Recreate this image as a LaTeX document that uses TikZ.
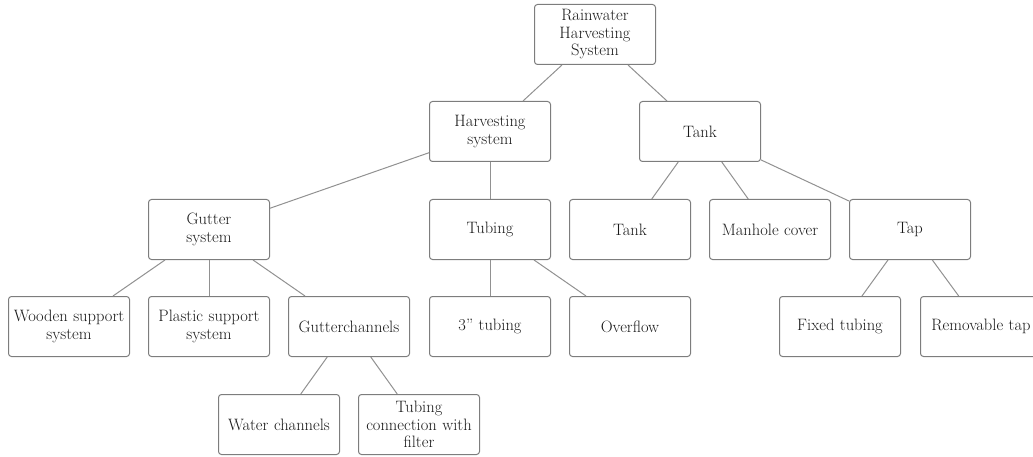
\documentclass[tikz,border=0pt]{standalone}
\usepackage{xcolor}
\usepackage{tikz}
\usetikzlibrary{positioning,calc}
\definecolor{edgegray}{RGB}{145,145,145}
\definecolor{framegray}{RGB}{125,125,125}
\definecolor{inkgray}{RGB}{25,25,25}

\begin{document}
\begin{tikzpicture}[x=1pt, y=-1pt, font=\fontsize{16.5}{17.5}\selectfont, text=inkgray,
  box/.style={draw=framegray, line width=1pt, rounded corners=3pt, align=center, minimum width=121pt, minimum height=60pt, inner sep=2pt, text width=116pt},
  link/.style={draw=edgegray, line width=1pt}]
\useasboundingbox (0,0) rectangle (1033,457);
% bottom row
\node[box] (wood) at (69,326.5) {Wooden support\\system};
\node[box, right=18pt of wood] (plast) {Plastic support\\system};
\node[box, right=18pt of plast] (gchan) {Gutterchannels};
\node[box, right=19pt of gchan] (tube3) {3'' tubing};
\node[box, right=18pt of tube3] (over) {Overflow};
\node[box, right=88pt of over] (fixed) {Fixed tubing};
\node[box, right=19pt of fixed] (remov) {Removable tap};
% middle row
\node[box, above=36pt of plast] (gutter) {Gutter\\system};
\node[box, above=36pt of tube3] (tubing) {Tubing};
\node[box, above=36pt of over] (tanksub) {Tank};
\node[box, right=18pt of tanksub] (manhole) {Manhole cover};
\node[box, right=18pt of manhole] (tap) {Tap};
% upper rows
\node[box, above=37pt of tubing] (harv) {Harvesting\\system};
\node[box, right=88pt of harv] (tank) {Tank};
\node[box, above=36pt of $(harv.north)!0.5!(tank.north)$, anchor=south] (root) {Rainwater\\Harvesting\\System};
% lowest row
\node[box] (wch) at (279,424.5) {Water channels};
\node[box, right=18pt of wch] (filt) {Tubing\\connection with\\filter};
% links
\draw[link] (root) -- (harv);
\draw[link] (root) -- (tank);
\draw[link] (harv) -- (gutter);
\draw[link] (harv) -- (tubing);
\draw[link] (tank) -- (tanksub);
\draw[link] (tank) -- (manhole);
\draw[link] (tank) -- (tap);
\draw[link] (gutter) -- (wood);
\draw[link] (gutter) -- (plast);
\draw[link] (gutter) -- (gchan);
\draw[link] (tubing) -- (tube3);
\draw[link] (tubing) -- (over);
\draw[link] (tap) -- (fixed);
\draw[link] (tap) -- (remov);
\draw[link] (gchan) -- (wch);
\draw[link] (gchan) -- (filt);
\end{tikzpicture}
\end{document}
